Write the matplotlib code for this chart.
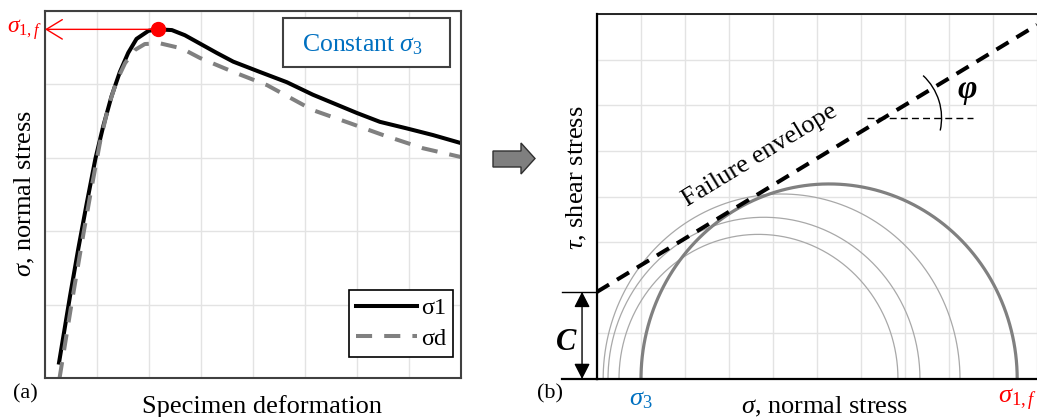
import numpy as np
import matplotlib.pyplot as plt
from matplotlib.patches import Rectangle, Arc, Polygon

plt.rcParams['font.family'] = ['Liberation Serif', 'DejaVu Serif']
plt.rcParams['mathtext.fontset'] = 'custom'
plt.rcParams['mathtext.rm'] = 'Liberation Serif'
plt.rcParams['mathtext.it'] = 'Liberation Serif:italic'

# stress-deformation curves (grid units)
sig1_x = [0.27, 0.48, 0.64, 0.80, 0.97, 1.12, 1.28, 1.44, 1.60, 1.76, 1.99, 2.18, 2.44,
          2.69, 3.3, 3.62, 4.13, 4.65, 5.15, 6.0, 6.44, 6.96, 7.46, 8.0]
sig1_y = [0.21, 1.11, 1.76, 2.37, 2.99, 3.43, 3.84, 4.17, 4.43, 4.62, 4.73, 4.75, 4.74,
          4.67, 4.43, 4.31, 4.17, 4.03, 3.86, 3.61, 3.49, 3.40, 3.31, 3.2]
sigd_x = [0.28, 0.51, 0.74, 0.90, 1.06, 1.22, 1.38, 1.54, 1.73, 1.92, 2.21, 2.63, 2.98,
          3.62, 4.27, 5.15, 5.87, 6.5, 7.27, 8.0]
sigd_y = [0.0, 1.01, 1.97, 2.61, 3.22, 3.70, 4.05, 4.29, 4.47, 4.55, 4.56, 4.49, 4.36,
          4.17, 3.99, 3.65, 3.47, 3.31, 3.13, 3.01]

# Mohr circles: (sigma3, sigma1) pairs, last one is the failure circle
circ_s3 = [0.14, 0.25, 0.5, 1.0]
circ_s1 = [8.25, 7.34, 6.84, 9.55]

# Mohr-Coulomb envelope
coh = 1.91
env_slope = 0.585
phi_y = 5.72

W, H = 1037, 417
fig = plt.figure(figsize=(W / 100, H / 100), dpi=100)


def px_axes(x0, y0, x1, y1):
    return fig.add_axes([x0 / W, 1 - y1 / H, (x1 - x0) / W, (y1 - y0) / H])


def fx(x):
    return x / W


def fy(y):
    return 1 - y / H


# ---- (a) stress vs deformation
ax1 = px_axes(45, 11, 461, 378)
ax1.set_xlim(0, 8)
ax1.set_ylim(0, 5)
ax1.set_xticks(range(9))
ax1.set_yticks(range(6))
ax1.tick_params(length=0, labelbottom=False, labelleft=False)
ax1.grid(color='#e3e3e3', lw=1)
ax1.set_axisbelow(True)
for sp in ax1.spines.values():
    sp.set_color('#404040')
    sp.set_linewidth(1.5)

ax1.plot(sig1_x, sig1_y, color='black', lw=2.9, label='σ1', solid_joinstyle='round')
ax1.plot(sigd_x, sigd_y, color='#808080', lw=2.9, ls=(0, (4, 3)), label='σd')

i_pk = int(np.argmax(sig1_y))
pk_x, pk_y = sig1_x[i_pk], sig1_y[i_pk]
ax1.plot(pk_x, pk_y, 'o', color='red', ms=10, zorder=5)
ax1.annotate('', xy=(0, pk_y), xytext=(pk_x, pk_y), annotation_clip=False,
             arrowprops=dict(arrowstyle='->,head_length=1.15,head_width=0.7',
                             color='red', lw=1, mutation_scale=10,
                             shrinkA=0, shrinkB=0))
ax1.text(-0.4, pk_y, r'$\sigma_{\mathit{1,f}}$', color='red', fontsize=17,
         ha='center', va='center', clip_on=False)

ax1.add_patch(Rectangle((0.572, 0.847), 0.402, 0.134, transform=ax1.transAxes,
                        facecolor='white', edgecolor='#404040', lw=1.5, zorder=4))
ax1.text(0.764, 0.907, r'Constant $\sigma_\mathit{3}$', transform=ax1.transAxes,
         color='#0070C0', fontsize=18.5, ha='center', va='center', zorder=5)

leg = ax1.legend(loc='lower right', bbox_to_anchor=(0.981, 0.057), fontsize=17.5,
                 fancybox=False, edgecolor='black', framealpha=1, handlelength=2.5,
                 borderpad=0.3, labelspacing=0.35, handletextpad=0.15,
                 borderaxespad=0)
leg.get_frame().set_linewidth(1.2)

fig.text(fx(262), fy(413), 'Specimen deformation', fontsize=19, ha='center', va='baseline')
fig.text(fx(25), fy(193), r'$\sigma$, normal stress', fontsize=19, rotation=90,
         ha='center', va='center')
fig.text(fx(25), fy(394), '(a)', fontsize=16, ha='center', va='center')

# arrow between panels
arrow_px = [(493, 151), (521, 151), (521, 143), (535, 158.5), (521, 174), (521, 167), (493, 167)]
fig.patches.append(Polygon([(fx(x), fy(y)) for x, y in arrow_px], closed=True,
                           transform=fig.transFigure, facecolor='#7f7f7f',
                           edgecolor='#303030', lw=1))

# ---- (b) Mohr circles
ax2 = px_axes(597, 14, 1037, 379)
ax2.set_xlim(0, 10)
ax2.set_ylim(0, 8)
ax2.set_xticks(range(11))
ax2.set_yticks(range(9))
ax2.tick_params(length=0, labelbottom=False, labelleft=False)
ax2.grid(color='#e3e3e3', lw=1)
ax2.set_axisbelow(True)
ax2.spines['right'].set_visible(False)
ax2.spines['top'].set_linewidth(1.2)
ax2.spines['left'].set_linewidth(1.6)
ax2.spines['bottom'].set_linewidth(1.6)

t = np.linspace(0, np.pi, 300)
for k, (s3, s1) in enumerate(zip(circ_s3, circ_s1)):
    c, r = (s1 + s3) / 2, (s1 - s3) / 2
    last = k == len(circ_s3) - 1
    ax2.plot(c + r * np.cos(t), r * np.sin(t),
             color='#808080' if last else '#a8a8a8', lw=2.3 if last else 0.9)

env_x = np.array([0, 10])
ax2.plot(env_x, coh + env_slope * env_x, color='black', lw=2.9,
         ls=(0, (3.5, 2.3)), zorder=4)

x_int = (phi_y - coh) / env_slope
ax2.plot([x_int - 0.37, x_int + 2.04], [phi_y, phi_y], color='black', lw=1,
         ls=(0, (5, 3)))
ax2.add_patch(Arc((x_int, phi_y), 2 * 58 / 44, 2 * 58 / 45.6, theta1=-12, theta2=46,
                  color='black', lw=1))
ax2.text(8.41, 6.34, 'φ', fontsize=24, fontweight='bold', fontstyle='italic',
         ha='center', va='center')
ax2.text(3.7, 4.9, 'Failure envelope', fontsize=19, rotation=31.3,
         rotation_mode='anchor', ha='center', va='center')

# cohesion marker
ax2.plot([-0.8, 0], [coh, coh], color='black', lw=1, clip_on=False)
ax2.plot([-0.8, 0], [0, 0], color='black', lw=1.6, clip_on=False)
ax2.annotate('', xy=(-0.34, 0), xytext=(-0.34, coh), annotation_clip=False,
             arrowprops=dict(arrowstyle='<|-|>,head_length=0.47,head_width=0.24',
                             color='black', lw=1, mutation_scale=20,
                             shrinkA=0, shrinkB=0))
ax2.text(-0.7, 0.81, 'C', fontsize=22, fontweight='bold', fontstyle='italic',
         ha='center', va='center', clip_on=False)

ax2.text(circ_s3[-1], -0.46, r'$\sigma_\mathit{3}$', color='#0070C0', fontsize=19,
         ha='center', va='center', clip_on=False)
ax2.text(circ_s1[-1], -0.46, r'$\sigma_{\mathit{1,f}}$', color='red', fontsize=19,
         ha='center', va='center', clip_on=False)

fig.text(fx(825), fy(413), r'$\sigma$, normal stress', fontsize=19, ha='center', va='baseline')
fig.text(fx(577), fy(178), r'$\tau$, shear stress', fontsize=19, rotation=90,
         ha='center', va='center')
fig.text(fx(550), fy(394), '(b)', fontsize=16, ha='center', va='center')

fig.savefig('out.png', dpi=100)
